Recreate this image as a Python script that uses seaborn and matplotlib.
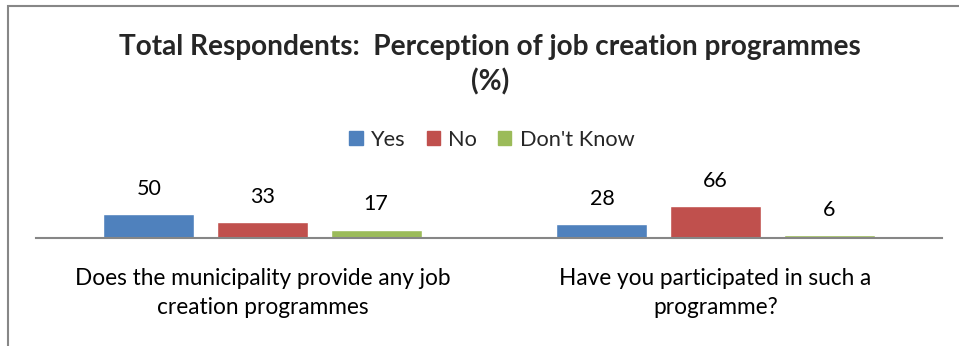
import matplotlib
matplotlib.use("Agg")
import matplotlib.pyplot as plt
from matplotlib.patches import Rectangle
import pandas as pd
import seaborn as sns

questions = [
    "Does the municipality provide any job\ncreation programmes",
    "Have you participated in such a\nprogramme?",
]
responses = ["Yes", "No", "Don't Know"]
yes_pct = [50, 28]
no_pct = [33, 66]
dont_know_pct = [17, 6]
colors = ["#4F81BD", "#C0504D", "#9BBB59"]

rows = []
for q, y, n, d in zip(questions, yes_pct, no_pct, dont_know_pct):
    rows += [(q, "Yes", y), (q, "No", n), (q, "Don't Know", d)]
df = pd.DataFrame(rows, columns=["question", "response", "pct"])

sns.set_style("white")
plt.rcParams["font.family"] = ["Lato", "DejaVu Sans"]

fig = plt.figure(figsize=(9.59, 3.46), dpi=100)
ax = fig.add_axes([36 / 959, 1 - 237.7 / 346, 906 / 959, 47.4 / 346])

sns.barplot(data=df, x="question", y="pct", hue="response", hue_order=responses,
            palette=colors, width=0.752, gap=0.198, saturation=1, ax=ax,
            legend=False, errorbar=None)

ax.set_ylim(0, 100)
ax.set_xlim(-0.5, 1.5)
for c in ax.containers:
    ax.bar_label(c, fmt="%g", padding=11, fontsize=15.5, color="#000000")

for s in ["top", "right", "left"]:
    ax.spines[s].set_visible(False)
ax.spines["bottom"].set_color("#868686")
ax.spines["bottom"].set_linewidth(1.5)
ax.set_yticks([])
ax.set_xlabel("")
ax.set_ylabel("")
ax.tick_params(axis="x", length=0, pad=22, labelsize=16.3, labelcolor="#000000")
for t in ax.get_xticklabels():
    t.set_linespacing(1.45)

fig.text(490 / 959, 1 - 47 / 346, "Total Respondents:  Perception of job creation programmes",
         ha="center", va="center", fontsize=20.2, fontweight="bold")
fig.text(490 / 959, 1 - 82 / 346, "(%)", ha="center", va="center",
         fontsize=20.2, fontweight="bold")

handles = [Rectangle((0, 0), 1, 1, color=c) for c in colors]
fig.legend(handles, responses, loc="center", bbox_to_anchor=(492 / 959, 1 - 140 / 346),
           ncol=3, frameon=False, fontsize=15.7, handlelength=0.6, handleheight=0.6,
           handletextpad=0.4, columnspacing=0.95)

fig.patches.append(Rectangle((8 / 959, -0.2), 1.2, 1.2 - 6 / 346,
                             transform=fig.transFigure, fill=False,
                             edgecolor="#878787", linewidth=1.5))

fig.savefig("out.png", dpi=100)
